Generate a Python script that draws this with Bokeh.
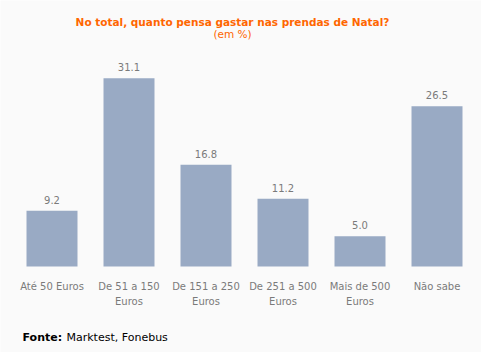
from bokeh.plotting import figure
from bokeh.models import ColumnDataSource, Range1d, Label
from bokeh.embed import file_html
from bokeh.resources import INLINE
from bokeh.core.properties import value

categories = ["Até 50 Euros", "De 51 a 150\nEuros", "De 151 a 250\nEuros",
              "De 251 a 500\nEuros", "Mais de 500\nEuros", "Não sabe"]
values = [9.2, 31.1, 16.8, 11.2, 5.0, 26.5]
value_labels = ["9.2", "31.1", "16.8", "11.2", "5.0", "26.5"]
title_text = "No total, quanto pensa gastar nas prendas de Natal?"
subtitle_text = "(em %)"

W, H = 481, 352
left_px, slot_px = 13, 77
base_px = 266          # bar baseline from top
px_per_unit = 6.05

idx = list(range(len(categories)))
src = ColumnDataSource(dict(x=idx, top=values, lab=value_labels, cat=categories,
                            zero=[0] * len(idx)))

x0 = -left_px / slot_px - 0.5
x1 = (W - left_px) / slot_px - 0.5
y0 = -(H - base_px) / px_per_unit
y1 = base_px / px_per_unit

p = figure(width=W, height=H, output_backend="svg", toolbar_location=None,
           x_range=Range1d(x0, x1), y_range=Range1d(y0, y1),
           x_axis_location=None, y_axis_location=None, min_border=0,
           background_fill_color="#fafafa", border_fill_color="#fafafa",
           outline_line_color=None)
p.grid.visible = False

font = value("DejaVu Sans")
p.vbar(x="x", top="top", bottom=0, width=51 / 77, source=src,
       fill_color="#99aac4", line_color=None)
p.text(x="x", y="top", text="lab", source=src, text_align="center",
       text_baseline="alphabetic", y_offset=-11, text_font=font,
       text_font_size="10px", text_color="#7a7a7a")
p.text(x="x", y="zero", text="cat", source=src, text_align="center",
       text_baseline="top", y_offset=14, text_font=font,
       text_font_size="10px", text_color="#7a7a7a", text_line_height=1.4)

cx = 232
p.add_layout(Label(x=cx, y=H - 21, x_units="screen", y_units="screen",
                   text=title_text, text_align="center", text_baseline="alphabetic",
                   text_font="DejaVu Sans", text_font_size="10.5px",
                   text_font_style="bold", text_color="#ff6600"))
p.add_layout(Label(x=cx, y=H - 33, x_units="screen", y_units="screen",
                   text=subtitle_text, text_align="center", text_baseline="alphabetic",
                   text_font="DejaVu Sans", text_font_size="10.5px",
                   text_color="#ff6600"))
p.add_layout(Label(x=22, y=15, x_units="screen", y_units="screen",
                   text="Fonte:", text_align="left", text_baseline="alphabetic",
                   text_font="DejaVu Sans", text_font_size="11px",
                   text_font_style="bold", text_color="#000000"))
p.add_layout(Label(x=66, y=15, x_units="screen", y_units="screen",
                   text="Marktest, Fonebus", text_align="left", text_baseline="alphabetic",
                   text_font="DejaVu Sans", text_font_size="11px",
                   text_color="#000000"))

open("out.html", "w").write(file_html(p, INLINE))
